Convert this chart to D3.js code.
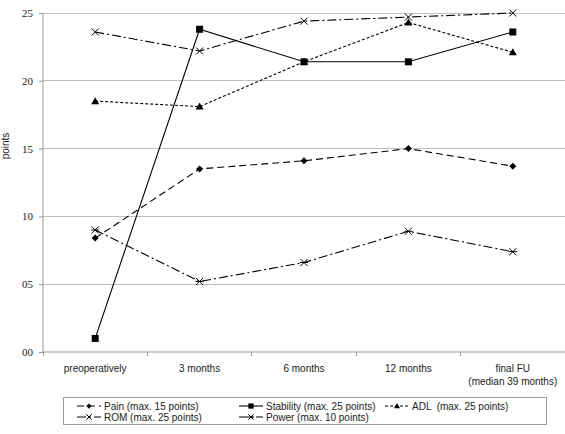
<!DOCTYPE html>
<html><head><meta charset="utf-8">
<script src="https://cdn.jsdelivr.net/npm/d3@7"></script>
<style>body{margin:0;background:#fff}svg{display:block}</style>
</head><body>
<svg id="c" width="565" height="434"></svg>
<script>
const categories = ["preoperatively", "3 months", "6 months", "12 months", "final FU|(median 39 months)"];
const yTicks = [0, 5, 10, 15, 20, 25];
const yTickLabels = ["00", "05", "10", "15", "20", "25"];
const pain = [8.4, 13.5, 14.1, 15.0, 13.7];
const stability = [1.0, 23.8, 21.4, 21.4, 23.6];
const adl = [18.5, 18.1, 21.4, 24.3, 22.1];
const rom = [23.6, 22.2, 24.4, 24.7, 25.0];
const power = [9.0, 5.2, 6.6, 8.9, 7.4];
const seriesNames = ["Pain (max. 15 points)", "Stability (max. 25 points)", "ADL  (max. 25 points)", "ROM (max. 25 points)", "Power (max. 10 points)"];

const series = [
  {name: seriesNames[0], values: pain, dash: "7,4", marker: "diamond"},
  {name: seriesNames[1], values: stability, dash: null, marker: "square"},
  {name: seriesNames[2], values: adl, dash: "3,2", marker: "triangle"},
  {name: seriesNames[3], values: rom, dash: "9,3,2,3", marker: "x"},
  {name: seriesNames[4], values: power, dash: "9,3,2,3", marker: "star"}
];

const svg = d3.select("#c");
const pLeft = 43, pRight = 565, pTop = 13, pBottom = 352;
const x = d3.scaleBand().domain(categories).range([pLeft, pRight]);
const y = d3.scaleLinear().domain([0, 25]).range([pBottom, pTop]);
const cx = d => x(d) + x.bandwidth() / 2;

// gridlines
svg.append("g").selectAll("line").data(yTicks.slice(1)).join("line")
  .attr("x1", pLeft).attr("x2", pRight)
  .attr("y1", d => y(d)).attr("y2", d => y(d))
  .attr("stroke", "#c0c0c0").attr("stroke-width", 1).attr("shape-rendering", "crispEdges");

// y axis
const ya = svg.append("g").attr("transform", `translate(${pLeft},0)`)
  .call(d3.axisLeft(y).tickValues(yTicks).tickFormat((d, i) => yTickLabels[i]).tickSize(4).tickPadding(6));
ya.select(".domain").attr("stroke", "#999").attr("d", `M0,${pTop}V${pBottom}`);
ya.selectAll(".tick line").attr("stroke", "#999");
ya.selectAll("text").attr("font-family", "Liberation Serif, Times New Roman, serif").attr("font-size", 11).attr("fill", "#222");

// x axis
const xa = svg.append("g").attr("transform", `translate(0,${pBottom})`)
  .call(d3.axisBottom(x).tickSize(0).tickFormat(""));
xa.select(".domain").attr("stroke", "#999").attr("d", `M${pLeft},0H${pRight}`);
const xTickPos = d3.range(categories.length).map(i => pLeft + i * x.step());
svg.append("g").selectAll("line").data(xTickPos).join("line")
  .attr("x1", d => d).attr("x2", d => d).attr("y1", pBottom).attr("y2", pBottom + 4)
  .attr("stroke", "#999").attr("shape-rendering", "crispEdges");
const xl = svg.append("g").selectAll("text").data(categories).join("text")
  .attr("x", cx).attr("y", pBottom + 20)
  .attr("text-anchor", "middle").attr("font-family", "Liberation Sans, Arial, sans-serif")
  .attr("font-size", 10).attr("fill", "#222");
xl.each(function(d) {
  const parts = d.split("|");
  const t = d3.select(this);
  parts.forEach((p, i) => t.append("tspan").attr("x", cx(d)).attr("dy", i ? 13 : 0).text(p));
});

// y label
svg.append("text").attr("transform", `translate(9,146) rotate(-90)`)
  .attr("text-anchor", "middle").attr("font-family", "Liberation Sans, Arial, sans-serif")
  .attr("font-size", 10).attr("fill", "#222").text("points");

function drawMarker(g, type, mx, my, s) {
  s = s || 1;
  if (type === "diamond") {
    g.append("path").attr("d", `M${mx},${my-3.5*s}L${mx+3.5*s},${my}L${mx},${my+3.5*s}L${mx-3.5*s},${my}Z`).attr("fill", "#000");
  } else if (type === "square") {
    g.append("rect").attr("x", mx - 3.5*s).attr("y", my - 3.5*s).attr("width", 7*s).attr("height", 7*s).attr("fill", "#000");
  } else if (type === "triangle") {
    g.append("path").attr("d", `M${mx},${my-4*s}L${mx+4*s},${my+3*s}L${mx-4*s},${my+3*s}Z`).attr("fill", "#000");
  } else if (type === "x") {
    g.append("path").attr("d", `M${mx-3.5*s},${my-3.5*s}L${mx+3.5*s},${my+3.5*s}M${mx+3.5*s},${my-3.5*s}L${mx-3.5*s},${my+3.5*s}`).attr("stroke", "#000").attr("stroke-width", 1).attr("fill", "none");
  } else if (type === "star") {
    g.append("path").attr("d", `M${mx-3.5*s},${my-3.5*s}L${mx+3.5*s},${my+3.5*s}M${mx+3.5*s},${my-3.5*s}L${mx-3.5*s},${my+3.5*s}M${mx-4*s},${my}L${mx+4*s},${my}`).attr("stroke", "#000").attr("stroke-width", 1).attr("fill", "none");
  }
}

const line = d3.line().x((d, i) => cx(categories[i])).y(d => y(d));
series.forEach(s => {
  const g = svg.append("g");
  g.append("path").attr("d", line(s.values)).attr("fill", "none").attr("stroke", "#000")
    .attr("stroke-width", 1.1).attr("stroke-dasharray", s.dash);
  s.values.forEach((v, i) => drawMarker(g, s.marker, cx(categories[i]), y(v)));
});

// legend
svg.append("rect").attr("x", 63.5).attr("y", 397.5).attr("width", 483).attr("height", 27)
  .attr("fill", "#fff").attr("stroke", "#999");
const legPos = [[77, 406], [239, 406], [385, 406], [77, 417], [239, 417]];
series.forEach((s, i) => {
  const [lx, ly] = legPos[i];
  const g = svg.append("g");
  g.append("line").attr("x1", lx).attr("x2", lx + 24).attr("y1", ly).attr("y2", ly)
    .attr("stroke", "#000").attr("stroke-width", 1.1).attr("stroke-dasharray", s.dash);
  drawMarker(g, s.marker, lx + 12, ly, 0.75);
  g.append("text").attr("x", lx + 27).attr("y", ly + 3.5).attr("font-family", "Liberation Sans, Arial, sans-serif")
    .attr("font-size", 10).attr("fill", "#222").style("white-space", "pre").text(s.name);
});
</script>
</body></html>
